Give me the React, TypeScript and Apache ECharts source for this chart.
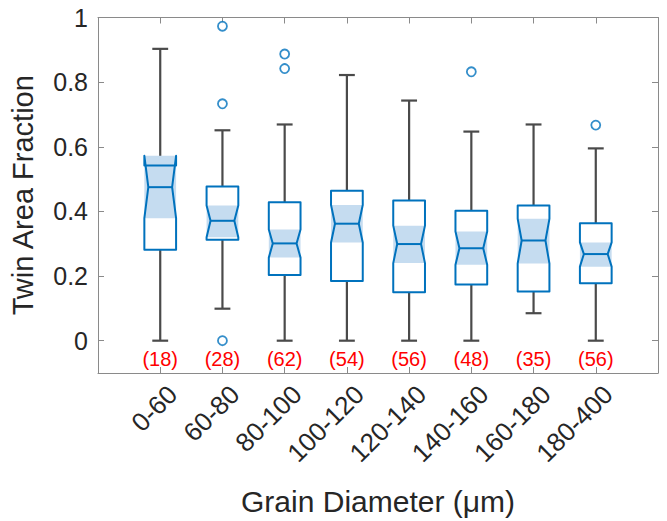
import React, { useEffect, useRef } from "react";
import * as echarts from "echarts";

const categories = ["0-60", "60-80", "80-100", "100-120", "120-140", "140-160", "160-180", "180-400"];
const whiskerLow = [0, 0.099, 0, 0, 0, 0, 0.085, 0];
const q1 = [0.281, 0.312, 0.203, 0.185, 0.15, 0.174, 0.152, 0.178];
const notchLow = [0.379, 0.32, 0.257, 0.304, 0.24, 0.235, 0.239, 0.229];
const median = [0.475, 0.371, 0.301, 0.362, 0.299, 0.286, 0.31, 0.268];
const notchHigh = [0.572, 0.418, 0.344, 0.42, 0.356, 0.338, 0.377, 0.304];
const q3 = [0.542, 0.477, 0.428, 0.464, 0.434, 0.402, 0.418, 0.363];
const whiskerHigh = [0.903, 0.651, 0.669, 0.822, 0.743, 0.647, 0.669, 0.595];
const counts = [18, 28, 62, 54, 56, 48, 35, 56];
const outlierCategory = ["60-80", "60-80", "60-80", "80-100", "80-100", "140-160", "180-400"];
const outlierValue = [0.973, 0.733, 0, 0.887, 0.842, 0.832, 0.667];
const xTicks = [1, 2, 3, 4, 5, 6, 7, 8];
const yTicks = [0, 0.2, 0.4, 0.6, 0.8, 1];
const yTickLabels = ["0", "0.2", "0.4", "0.6", "0.8", "1"];
const COUNT_Y = -0.058;
const LABEL_SHIFT = 0.2;

const BLUE = "#0072BD";
const SHADE = "#c5dcf0";
const WHISKER = "#4a4a4a";
const FRAME = "#8a8a8a";
const TEXT = "#262626";
const FONT = "'Liberation Sans', Arial, sans-serif";

export default function App() {
  const ref = useRef<HTMLDivElement>(null);
  useEffect(() => {
    if (!ref.current) return;
    const chart = echarts.init(ref.current, undefined, { renderer: "svg" });
    const boxData = categories.map((_, i) => [
      i + 1,
      whiskerLow[i],
      q1[i],
      notchLow[i],
      median[i],
      notchHigh[i],
      q3[i],
      whiskerHigh[i],
      counts[i],
    ]);
    const outlierData = outlierCategory.map((c, i) => [categories.indexOf(c) + 1, outlierValue[i]]);

    const renderItem = (params: any, api: any) => {
      const xv = api.value(0);
      const wl = api.value(1);
      const a1 = api.value(2);
      const nl = api.value(3);
      const md = api.value(4);
      const nh = api.value(5);
      const a3 = api.value(6);
      const wh = api.value(7);
      const n = api.value(8);
      const band = api.size([1, 0])[0];
      const bw = band * 0.51;
      const cx = api.coord([xv, md])[0];
      const y = (v: number) => api.coord([xv, v])[1];
      const L = cx - bw / 2;
      const R = cx + bw / 2;
      const ind = bw * 0.125;
      const capW = bw / 2;
      const wStyle = { stroke: WHISKER, lineWidth: 2.2 };
      const children: any[] = [
        { type: "line", shape: { x1: cx, y1: y(a3), x2: cx, y2: y(wh) }, style: wStyle },
        { type: "line", shape: { x1: cx, y1: y(a1), x2: cx, y2: y(wl) }, style: wStyle },
        { type: "line", shape: { x1: cx - capW / 2, y1: y(wh), x2: cx + capW / 2, y2: y(wh) }, style: wStyle },
        { type: "line", shape: { x1: cx - capW / 2, y1: y(wl), x2: cx + capW / 2, y2: y(wl) }, style: wStyle },
        {
          type: "rect",
          shape: { x: L, y: y(nh), width: bw, height: y(nl) - y(nh) },
          style: { fill: SHADE },
        },
        {
          type: "polygon",
          shape: {
            points: [
              [L, y(a1)],
              [L, y(nl)],
              [L + ind, y(md)],
              [L, y(nh)],
              [L, y(a3)],
              [R, y(a3)],
              [R, y(nh)],
              [R - ind, y(md)],
              [R, y(nl)],
              [R, y(a1)],
            ],
          },
          style: { fill: "none", stroke: BLUE, lineWidth: 2, lineJoin: "round" },
        },
        {
          type: "line",
          shape: { x1: L + ind, y1: y(md), x2: R - ind, y2: y(md) },
          style: { stroke: BLUE, lineWidth: 2 },
        },
        {
          type: "text",
          x: cx,
          y: y(COUNT_Y),
          style: {
            text: "(" + n + ")",
            fill: "#ff0000",
            font: "20px " + FONT,
            align: "center",
            verticalAlign: "middle",
          },
        },
      ];
      return { type: "group", children };
    };

    const axisLineStyle = { lineStyle: { color: FRAME, width: 1 } };

    chart.setOption({
      animation: false,
      backgroundColor: "#ffffff",
      grid: { left: 98, right: 9, top: 17.5, bottom: 148, containLabel: false },
      xAxis: [
        {
          type: "value",
          min: 0,
          max: 9,
          position: "bottom",
          name: "Grain Diameter (\u03bcm)",
          nameLocation: "middle",
          nameGap: 113,
          nameTextStyle: { fontSize: 30, fontFamily: FONT, color: TEXT },
          axisLine: { show: true, onZero: false, ...axisLineStyle },
          axisTick: { show: true, inside: true, length: 6, customValues: xTicks, ...axisLineStyle },
          axisLabel: {
            customValues: xTicks.map((v) => v + LABEL_SHIFT),
            formatter: (v: number) => categories[Math.round(v - LABEL_SHIFT) - 1] ?? "",
            rotate: 45,
            fontSize: 26,
            fontFamily: FONT,
            color: TEXT,
            margin: 17,
            align: "right",
            verticalAlign: "middle",
            padding: [54, 0, 0, 0],
          },
          splitLine: { show: false },
        },
        {
          type: "value",
          min: 0,
          max: 9,
          position: "top",
          axisLine: { show: true, onZero: false, ...axisLineStyle },
          axisTick: { show: true, inside: true, length: 6, customValues: xTicks, ...axisLineStyle },
          axisLabel: { show: false },
          splitLine: { show: false },
        },
      ],
      yAxis: [
        {
          type: "value",
          min: -0.1,
          max: 1,
          position: "left",
          name: "Twin Area Fraction",
          nameLocation: "middle",
          nameGap: 61,
          nameTextStyle: { fontSize: 29, fontFamily: FONT, color: TEXT },
          axisLine: { show: true, onZero: false, ...axisLineStyle },
          axisTick: { show: true, inside: true, length: 6, customValues: yTicks, ...axisLineStyle },
          axisLabel: {
            customValues: yTicks,
            fontSize: 25,
            fontFamily: FONT,
            color: TEXT,
            margin: 10,
            formatter: (v: number) => {
              const k = yTicks.findIndex((t) => Math.abs(t - v) < 1e-9);
              return k >= 0 ? yTickLabels[k] : "";
            },
          },
          splitLine: { show: false },
        },
        {
          type: "value",
          min: -0.1,
          max: 1,
          position: "right",
          axisLine: { show: true, onZero: false, ...axisLineStyle },
          axisTick: { show: true, inside: true, length: 6, customValues: yTicks, ...axisLineStyle },
          axisLabel: { show: false },
          splitLine: { show: false },
        },
      ],
      series: [
        {
          type: "custom",
          xAxisIndex: 0,
          yAxisIndex: 0,
          renderItem,
          encode: { x: 0, y: [1, 2, 3, 4, 5, 6, 7] },
          data: boxData,
          clip: false,
          silent: true,
        },
        {
          type: "scatter",
          xAxisIndex: 0,
          yAxisIndex: 0,
          data: outlierData,
          symbol: "circle",
          symbolSize: 9,
          itemStyle: { color: "#ffffff", borderColor: BLUE, borderWidth: 1.8 },
          z: 5,
          silent: true,
        },
      ],
    });
    return () => chart.dispose();
  }, []);
  return (
    <div
      ref={ref}
      style={{ position: "fixed", left: 0, top: 0, width: 667, height: 521, background: "#fff" }}
    />
  );
}
